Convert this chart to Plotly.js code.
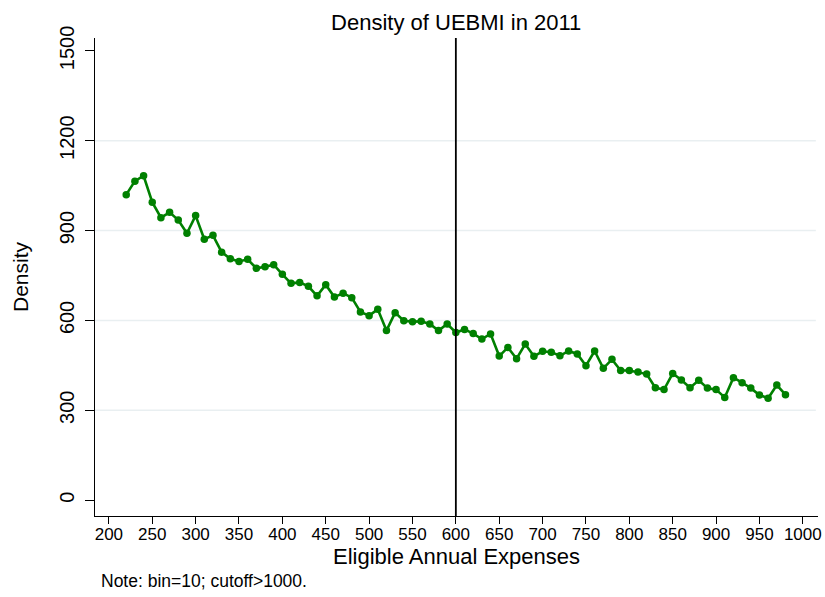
<!DOCTYPE html>
<html>
<head>
<meta charset="utf-8">
<script src="https://cdn.plot.ly/plotly-3.0.1.min.js"></script>
<style>html,body{margin:0;padding:0;background:#fff;}#chart{width:825px;height:597px;}</style>
</head>
<body>
<div id="chart"></div>
<script>
const expenses = [220,230,240,250,260,270,280,290,300,310,320,330,340,350,360,370,380,390,400,
  410,420,430,440,450,460,470,480,490,500,510,520,530,540,550,560,570,580,590,600,
  610,620,630,640,650,660,670,680,690,700,710,720,730,740,750,760,770,780,790,800,
  810,820,830,840,850,860,870,880,890,900,910,920,930,940,950,960,970,980];
const density = [1020,1065,1083,995,943,961,935,891,950,871,884,828,806,797,804,774,779,786,754,
  724,727,714,682,719,678,691,676,628,616,637,566,626,599,596,597,588,566,588,560,
  570,556,538,555,481,510,472,521,480,497,494,482,498,488,449,498,440,470,433,433,
  428,421,375,369,423,401,375,400,374,369,343,409,392,374,351,340,384,352];
const cutoff = 600;
const xTicks = [200,250,300,350,400,450,500,550,600,650,700,750,800,850,900,950,1000];
const yTicks = [0,300,600,900,1200,1500];
const gridLevels = [300,600,900,1200];

const font = "Liberation Sans, Arial, sans-serif";
const shapes = gridLevels.map(v => ({type: 'line', xref: 'paper', yref: 'y', x0: 0, x1: 0.997, y0: v, y1: v,
  layer: 'below', line: {color: '#e9eff1', width: 1.5}}));
shapes.push({type: 'line', xref: 'x', yref: 'paper', x0: cutoff, x1: cutoff, y0: 0, y1: 1,
  line: {color: '#000', width: 1.8}});

Plotly.newPlot('chart', [{
  x: expenses, y: density, type: 'scatter', mode: 'lines+markers',
  line: {color: '#008000', width: 2.6},
  marker: {color: '#008000', size: 7.5},
  hoverinfo: 'x+y'
}], {
  width: 825, height: 597,
  margin: {l: 95, r: 7, t: 38, b: 81},
  paper_bgcolor: '#ffffff', plot_bgcolor: '#ffffff',
  showlegend: false,
  font: {family: font, color: '#000'},
  title: {text: 'Density of UEBMI in 2011', x: 0.553, xanchor: 'center', y: 0.962, yanchor: 'middle',
          font: {size: 22, family: font, color: '#000'}},
  xaxis: {
    range: [184, 1017.5], tickvals: xTicks, ticktext: xTicks.map(String),
    showgrid: false, zeroline: false, showline: true, linecolor: '#000', linewidth: 1.3,
    ticks: 'outside', ticklen: 7, tickcolor: '#000', tickwidth: 1,
    ticklabelstandoff: -5,
    tickfont: {size: 17, family: font, color: '#000'},
    title: {text: 'Eligible Annual Expenses', font: {size: 22, family: font, color: '#000'}, standoff: 0}
  },
  yaxis: {
    range: [-53, 1543], tickvals: yTicks, ticktext: yTicks.map(String),
    showgrid: false,
    zeroline: false, showline: true, linecolor: '#000', linewidth: 1.3,
    ticks: 'outside', ticklen: 9, tickcolor: '#000', tickwidth: 1,
    tickangle: -90, ticklabelstandoff: 3,
    tickfont: {size: 20, family: font, color: '#000'},
    title: {text: 'Density', font: {size: 21, family: font, color: '#000'}, standoff: 21}
  },
  shapes: shapes,
  annotations: [{text: 'Note: bin=10; cutoff>1000.', xref: 'paper', yref: 'paper',
    x: 0.006, xanchor: 'left', y: -0.137, yanchor: 'middle', showarrow: false,
    font: {size: 17.5, family: font, color: '#000'}}]
}, {displayModeBar: false});
</script>
</body>
</html>
